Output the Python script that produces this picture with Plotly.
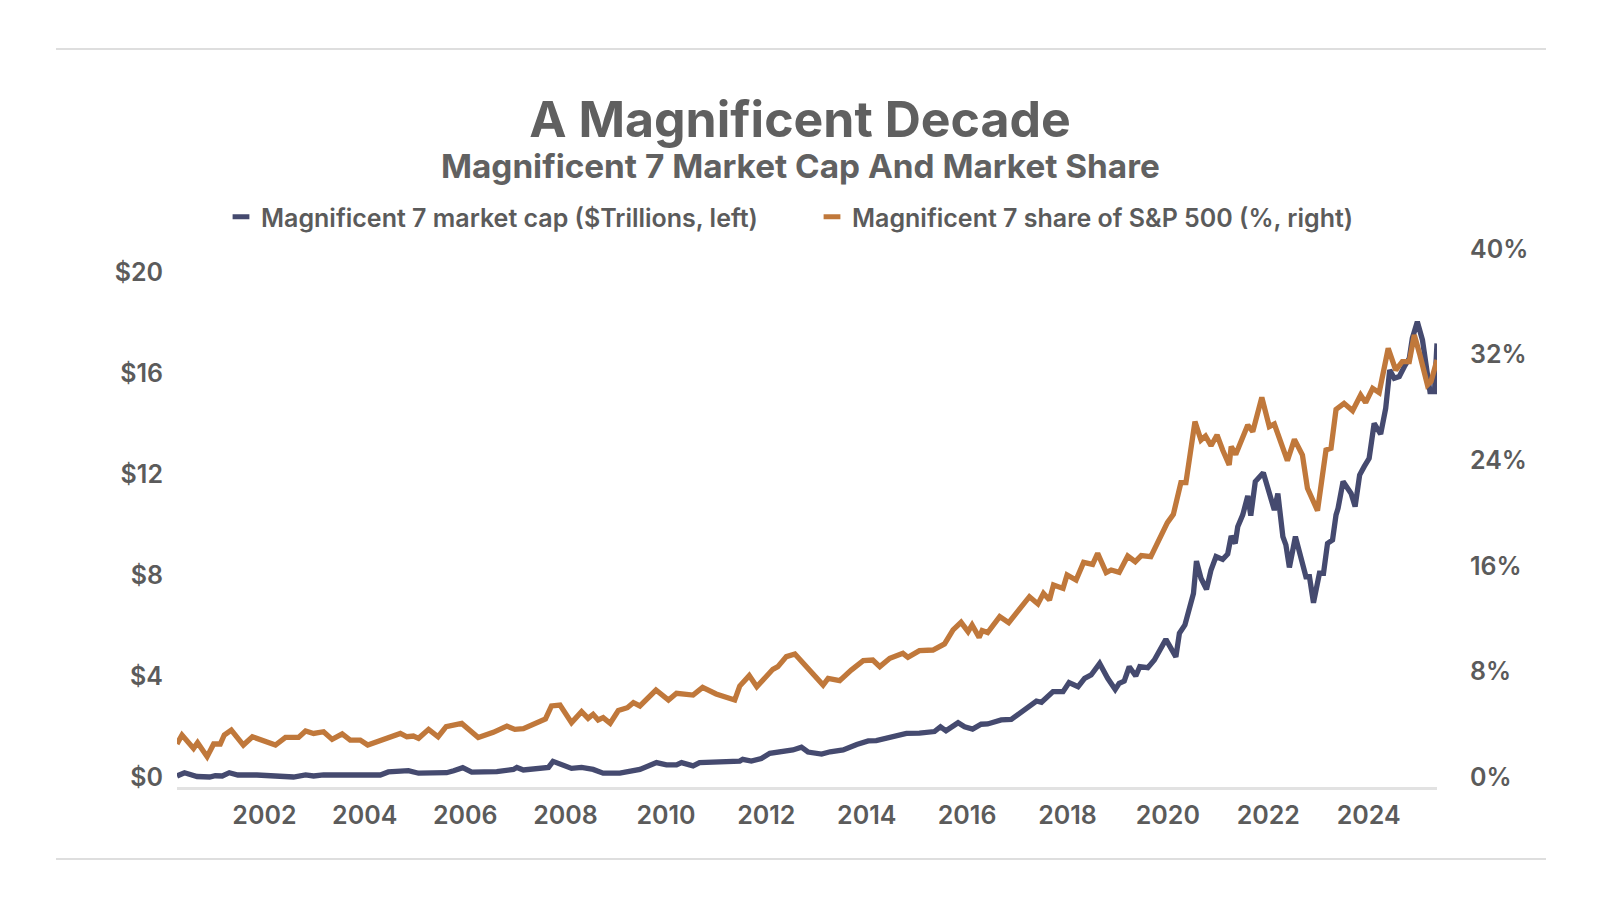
import pandas as pd
import plotly.graph_objects as go

# Magnificent 7 market cap, $ trillions (left axis); x as decimal years
cap_years = [
    2000.26, 2000.41, 2000.66, 2000.91, 2001.02, 2001.16, 2001.30, 2001.47, 2001.85, 2002.45,
    2002.58, 2002.82, 2002.98, 2003.18, 2004.31, 2004.47, 2004.71, 2004.87, 2005.07, 2005.63,
    2005.77, 2005.95, 2006.13, 2006.63, 2006.96, 2007.03, 2007.16, 2007.49, 2007.66, 2007.75,
    2007.91, 2008.12, 2008.32, 2008.55, 2008.75, 2009.08, 2009.48, 2009.68, 2009.81, 2010.01,
    2010.21, 2010.31, 2010.54, 2010.67, 2011.47, 2011.53, 2011.70, 2011.90, 2012.07, 2012.53,
    2012.70, 2012.83, 2013.10, 2013.27, 2013.53, 2013.80, 2014.03, 2014.19, 2014.52, 2014.79,
    2015.05, 2015.35, 2015.47, 2015.58, 2015.82, 2015.95, 2016.11, 2016.28, 2016.41, 2016.68,
    2016.88, 2017.04, 2017.21, 2017.38, 2017.48, 2017.71, 2017.91, 2018.03, 2018.21, 2018.34,
    2018.47, 2018.64, 2018.80, 2018.95, 2019.03, 2019.13, 2019.23, 2019.36, 2019.44, 2019.60,
    2019.73, 2019.96, 2020.16, 2020.23, 2020.34, 2020.43, 2020.51, 2020.57, 2020.66, 2020.77,
    2020.86, 2020.96, 2021.09, 2021.19, 2021.26, 2021.34, 2021.39, 2021.49, 2021.59, 2021.65,
    2021.74, 2021.90, 2022.02, 2022.12, 2022.19, 2022.29, 2022.35, 2022.42, 2022.54, 2022.65,
    2022.75, 2022.82, 2022.90, 2023.02, 2023.10, 2023.18, 2023.28, 2023.35, 2023.39, 2023.49,
    2023.65, 2023.73, 2023.82, 2023.91, 2024.01, 2024.11, 2024.24, 2024.34, 2024.42, 2024.51,
    2024.61, 2024.71, 2024.81, 2024.87, 2024.97, 2025.07, 2025.22, 2025.31, 2025.36,
]
cap_values = [
    0.04, 0.17, 0.02, 0.00, 0.05, 0.04, 0.17, 0.08, 0.08, 0.00,
    0.00, 0.08, 0.04, 0.08, 0.08, 0.20, 0.21, 0.25, 0.15, 0.17,
    0.25, 0.37, 0.19, 0.21, 0.30, 0.38, 0.28, 0.32, 0.38, 0.62,
    0.52, 0.34, 0.38, 0.30, 0.15, 0.15, 0.30, 0.44, 0.57, 0.48,
    0.48, 0.57, 0.44, 0.57, 0.63, 0.70, 0.63, 0.73, 0.94, 1.07,
    1.18, 0.99, 0.91, 1.00, 1.07, 1.29, 1.43, 1.44, 1.62, 1.73,
    1.74, 1.80, 1.99, 1.83, 2.15, 1.99, 1.90, 2.09, 2.10, 2.26,
    2.28, 2.52, 2.72, 3.01, 2.96, 3.38, 3.38, 3.74, 3.58, 3.91,
    4.04, 4.50, 3.91, 3.47, 3.71, 3.80, 4.37, 4.00, 4.37, 4.33,
    4.63, 5.45, 4.76, 5.69, 6.02, 6.61, 7.27, 8.55, 7.87, 7.43,
    8.20, 8.73, 8.62, 8.83, 9.54, 9.25, 9.91, 10.38, 11.13, 10.35,
    11.70, 12.05, 11.23, 10.57, 11.23, 9.52, 9.19, 8.30, 9.52, 8.73,
    7.93, 7.93, 6.90, 8.07, 8.07, 9.25, 9.39, 10.38, 10.64, 11.70,
    11.23, 10.71, 11.96, 12.29, 12.62, 14.00, 13.58, 14.60, 16.12, 15.79,
    15.86, 16.25, 16.58, 17.37, 18.03, 17.31, 15.26, 15.26, 17.17,
]

# Magnificent 7 share of S&P 500, % (right axis)
share_years = [
    2000.26, 2000.36, 2000.59, 2000.67, 2000.86, 2000.99, 2001.12, 2001.20, 2001.34, 2001.58,
    2001.76, 2002.22, 2002.42, 2002.68, 2002.82, 2002.98, 2003.18, 2003.35, 2003.55, 2003.71,
    2003.91, 2004.06, 2004.71, 2004.84, 2004.97, 2005.07, 2005.27, 2005.46, 2005.62, 2005.93,
    2006.26, 2006.56, 2006.83, 2006.99, 2007.16, 2007.50, 2007.60, 2007.72, 2007.89, 2008.12,
    2008.32, 2008.45, 2008.55, 2008.65, 2008.75, 2008.89, 2009.05, 2009.23, 2009.35, 2009.48,
    2009.80, 2010.05, 2010.21, 2010.54, 2010.73, 2011.00, 2011.37, 2011.47, 2011.66, 2011.81,
    2012.13, 2012.23, 2012.40, 2012.57, 2012.80, 2013.13, 2013.23, 2013.46, 2013.69, 2013.93,
    2014.12, 2014.26, 2014.46, 2014.72, 2014.82, 2015.05, 2015.32, 2015.55, 2015.72, 2015.88,
    2016.02, 2016.10, 2016.24, 2016.30, 2016.41, 2016.65, 2016.83, 2017.24, 2017.41, 2017.52,
    2017.64, 2017.72, 2017.91, 2017.99, 2018.17, 2018.32, 2018.50, 2018.60, 2018.77, 2018.87,
    2019.03, 2019.20, 2019.35, 2019.47, 2019.66, 2019.83, 2019.99, 2020.11, 2020.26, 2020.36,
    2020.54, 2020.66, 2020.75, 2020.86, 2020.98, 2021.09, 2021.22, 2021.26, 2021.35, 2021.59,
    2021.69, 2021.87, 2022.02, 2022.12, 2022.38, 2022.52, 2022.68, 2022.78, 2022.98, 2023.15,
    2023.25, 2023.35, 2023.51, 2023.68, 2023.84, 2023.94, 2024.08, 2024.21, 2024.39, 2024.54,
    2024.67, 2024.81, 2024.91, 2025.02, 2025.17, 2025.24, 2025.36,
]
share_values = [
    2.50, 3.18, 2.17, 2.60, 1.54, 2.50, 2.50, 3.18, 3.56, 2.42,
    3.05, 2.42, 3.00, 3.00, 3.48, 3.30, 3.43, 2.85, 3.26, 2.80,
    2.80, 2.42, 3.30, 3.05, 3.10, 2.93, 3.61, 3.05, 3.81, 4.06,
    3.00, 3.38, 3.86, 3.61, 3.66, 4.15, 4.40, 5.38, 5.45, 4.12,
    4.95, 4.44, 4.75, 4.32, 4.50, 4.07, 5.03, 5.25, 5.63, 5.38,
    6.59, 5.83, 6.34, 6.21, 6.79, 6.29, 5.83, 6.89, 7.68, 6.84,
    8.16, 8.36, 9.12, 9.32, 8.36, 6.97, 7.47, 7.30, 8.10, 8.81,
    8.86, 8.36, 8.99, 9.37, 9.07, 9.57, 9.62, 10.08, 11.14, 11.72,
    11.01, 11.52, 10.58, 11.09, 10.94, 12.15, 11.69, 13.66, 13.11, 13.91,
    13.41, 14.55, 14.29, 15.30, 14.92, 16.26, 16.11, 16.94, 15.48, 15.68,
    15.50, 16.74, 16.31, 16.77, 16.69, 17.95, 19.27, 19.90, 22.30, 22.30,
    26.92, 25.53, 25.83, 25.10, 25.91, 24.77, 23.64, 25.03, 24.44, 26.67,
    26.16, 28.76, 26.54, 26.74, 23.96, 25.58, 24.39, 21.87, 20.18, 24.77,
    24.90, 27.85, 28.31, 27.75, 28.94, 28.36, 29.44, 29.12, 32.47, 30.83,
    31.47, 31.47, 33.48, 31.97, 29.70, 29.95, 31.59,
]

cap_ticks = [0, 4, 8, 12, 16, 20]
cap_tick_text = ['$0', '$4', '$8', '$12', '$16', '$20']
share_ticks = [0, 8, 16, 24, 32, 40]
share_tick_text = ['0%', '8%', '16%', '24%', '32%', '40%']

NAVY = '#454a6f'
ORANGE = '#c0783b'
TEXT = '#5b5b5b'
FONT = 'Inter'

# plot area in page pixels
PX_L, PX_R, PX_T, PX_B = 169, 1429, 240, 779
PW, PH = PX_R - PX_L, PX_B - PX_T


def to_dates(years):
    """decimal year -> timestamp"""
    out = []
    for t in years:
        y = int(t)
        out.append(pd.Timestamp(year=y, month=1, day=1) + pd.Timedelta(days=(t - y) * 365.25))
    return out


def px_x(x):
    return (x - PX_L) / PW


def px_y(y):
    return (PX_B - y) / PH


cap_x = to_dates(cap_years)
share_x = to_dates(share_years)

fig = go.Figure()
fig.add_trace(go.Scatter(x=cap_x, y=cap_values, mode='lines', line=dict(color=NAVY, width=5.3),
                         showlegend=False, yaxis='y'))
fig.add_trace(go.Scatter(x=share_x, y=share_values, mode='lines', line=dict(color=ORANGE, width=5.3),
                         showlegend=False, yaxis='y2'))

# legend entries drawn as small flat blocks
fig.add_trace(go.Scatter(x=[None], y=[None], mode='markers', name='Magnificent 7 market cap ($Trillions, left)',
                         marker=dict(symbol='line-ew', size=12, line=dict(color=NAVY, width=5), color=NAVY)))
fig.add_trace(go.Scatter(x=[None], y=[None], mode='markers', name='Magnificent 7 share of S&P 500 (%, right)',
                         marker=dict(symbol='line-ew', size=12, line=dict(color=ORANGE, width=5), color=ORANGE),
                         yaxis='y2'))

fig.update_layout(
    width=1600, height=900,
    margin=dict(l=PX_L, r=1600 - PX_R, t=PX_T, b=900 - PX_B),
    paper_bgcolor='white', plot_bgcolor='white',
    font=dict(family=FONT, color=TEXT),
    title=dict(text='A Magnificent Decade', x=792 / 1600, xanchor='center', xref='container',
               y=1 - 111 / 900, yanchor='middle', yref='container',
               font=dict(size=50, weight=700, color='#606060', family=FONT)),
    legend=dict(orientation='h', x=px_x(213), xanchor='left', y=px_y(209), yanchor='middle',
                font=dict(size=25, weight=600, color=TEXT), entrywidth=546, entrywidthmode='pixels',
                bgcolor='rgba(0,0,0,0)'),
    xaxis=dict(type='date', range=[cap_x[0], cap_x[-1]], tick0='2002-01-01', dtick='M24', tickformat='%Y',
               showgrid=False, zeroline=False, showline=True, linecolor='#e2e2e2', linewidth=2.5,
               ticks='', ticklabelstandoff=4, tickfont=dict(size=25, weight=600, color=TEXT)),
    yaxis=dict(range=[-10 / 25.25, 529 / 25.25], tickvals=cap_ticks, ticktext=cap_tick_text, showgrid=False,
               zeroline=False, showline=False, ticks='', ticklabelstandoff=13,
               tickfont=dict(size=25, weight=600, color=TEXT)),
    yaxis2=dict(range=[-10 / 13.2, 529 / 13.2], tickvals=share_ticks, ticktext=share_tick_text, overlaying='y',
                side='right', showgrid=False, zeroline=False, showline=False, ticks='', ticklabelstandoff=32,
                tickfont=dict(size=25, weight=600, color=TEXT)),
    annotations=[dict(text='Magnificent 7 Market Cap And Market Share', xref='paper', yref='paper',
                      x=px_x(792), y=px_y(158), xanchor='center', yanchor='middle',
                      showarrow=False, font=dict(size=33.3, weight=700, color='#616161', family=FONT))],
    shapes=[
        dict(type='line', xref='paper', yref='paper', x0=px_x(48), x1=px_x(1538),
             y0=px_y(41), y1=px_y(41), line=dict(color='#dedede', width=2)),
        dict(type='line', xref='paper', yref='paper', x0=px_x(48), x1=px_x(1538),
             y0=px_y(851), y1=px_y(851), line=dict(color='#dedede', width=2)),
    ],
)

fig.write_html('out.html')
